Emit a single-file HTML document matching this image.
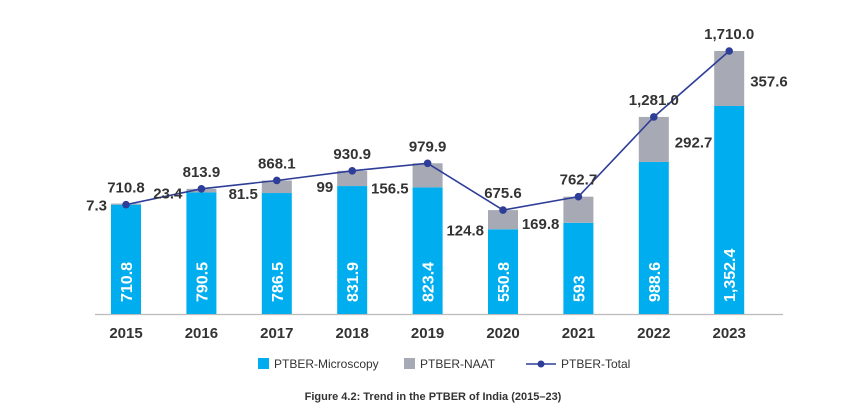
<!DOCTYPE html>
<html><head><meta charset="utf-8"><style>
body{margin:0;background:#fff;width:866px;height:412px;overflow:hidden;font-family:"Liberation Sans",sans-serif}
svg{display:block}
</style></head><body>
<svg id="c" width="866" height="412">
<line x1="95" y1="314.5" x2="783" y2="314.5" stroke="#bbb" stroke-width="1.2"/>
<g id="bars"></g><g id="line"></g><g id="labels"></g>
<g font-size="12" fill="#333">
<rect x="258" y="358" width="11" height="11" fill="#00AEEF"/>
<text x="274" y="368">PTBER-Microscopy</text>
<rect x="404" y="358" width="11" height="11" fill="#A7A9B4"/>
<text x="420" y="368">PTBER-NAAT</text>
<line x1="526" y1="364" x2="556" y2="364" stroke="#2E3E98" stroke-width="1.5"/>
<circle cx="541" cy="364" r="3.5" fill="#2E3E98"/>
<text x="561" y="368">PTBER-Total</text>
</g>
<text x="433" y="400" text-anchor="middle" font-size="11" font-weight="bold" fill="#333">Figure 4.2: Trend in the PTBER of India (2015–23)</text>
</svg>
<script>
const years=["2015","2016","2017","2018","2019","2020","2021","2022","2023"];
const micro=[710.8,790.5,786.5,831.9,823.4,550.8,593,988.6,1352.4];
const naat=[7.3,23.4,81.5,99,156.5,124.8,169.8,292.7,357.6];
const total=[710.8,813.9,868.1,930.9,979.9,675.6,762.7,1281.0,1710.0];
const microLbl=["710.8","790.5","786.5","831.9","823.4","550.8","593","988.6","1,352.4"];
const naatLbl=["7.3","23.4","81.5","99","156.5","124.8","169.8","292.7","357.6"];
const totalLbl=["710.8","813.9","868.1","930.9","979.9","675.6","762.7","1,281.0","1,710.0"];
const NS="http://www.w3.org/2000/svg";
const base=314,k=263/1710,x0=126,step=75.4,bw=30;
const X=i=>x0+i*step, Y=v=>base-v*k;
function mk(t,a,p){const e=document.createElementNS(NS,t);for(const n in a)e.setAttribute(n,a[n]);p.appendChild(e);return e;}
const gb=document.getElementById('bars'),gl=document.getElementById('line'),gt=document.getElementById('labels');
let pts=[];
years.forEach((y,i)=>{
  const x=X(i);
  const r1=mk('rect',{x:x-bw/2,y:Y(micro[i]),width:bw,height:base-Y(micro[i]),fill:'#00AEEF'},gb);
  
  
  const r2=mk('rect',{x:x-bw/2,y:Y(micro[i]+naat[i]),width:bw,height:naat[i]*k,fill:'#A7A9B4'},gb);
  
  
  const yl=mk('text',{x:x,y:338,'text-anchor':'middle','font-size':'15','font-weight':'bold',fill:'#333'},gt);
  yl.textContent=y;
  
  
  const ml=mk('text',{transform:`translate(${x+6},302) rotate(-90)`,'font-size':'16','font-weight':'bold',fill:'#fff'},gt);
  ml.textContent=microLbl[i];
  
  
  const ty=Y(total[i]);
  pts.push(x+','+ty);
  const tl=mk('text',{x:x,y:ty-12,'text-anchor':'middle','font-size':'15','font-weight':'bold',fill:'#333'},gt);
  tl.textContent=totalLbl[i];
  
  
  let nl;
  if(i<7){nl=mk('text',{x:x-bw/2-4,y:Y(micro[i])+6,'text-anchor':'end','font-size':'15','font-weight':'bold',fill:'#333'},gt);}
  else{nl=mk('text',{x:x+bw/2+6,y:Y(micro[i]+naat[i]/2)+8,'text-anchor':'start','font-size':'15','font-weight':'bold',fill:'#333'},gt);}
  nl.textContent=naatLbl[i];
  
  
});
const pl=mk('polyline',{points:pts.join(' '),fill:'none',stroke:'#2E3E98','stroke-width':'1.6'},gl);


years.forEach((y,i)=>{
  const c=mk('circle',{cx:X(i),cy:Y(total[i]),r:3.8,fill:'#2E3E98'},gl);
  
  
});
</script>
</body></html>
